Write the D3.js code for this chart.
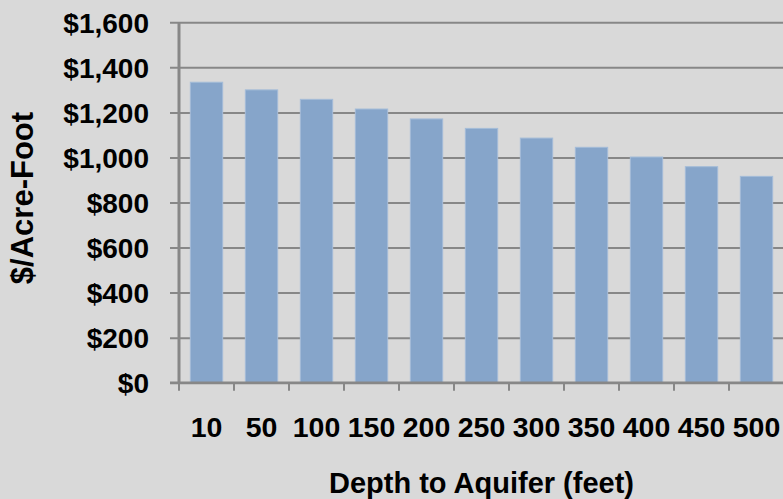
<!DOCTYPE html>
<html>
<head>
<meta charset="utf-8">
<script src="https://cdn.jsdelivr.net/npm/d3@7"></script>
<style>
  html, body { margin: 0; padding: 0; background: #d9d9d9; }
  svg { display: block; }
  text { font-family: "Liberation Sans", Arial, sans-serif; font-weight: bold; fill: #000; }
</style>
</head>
<body>
<svg id="chart" width="783" height="499"></svg>
<script>
// Cost of water by depth to the aquifer
const depths = ["10", "50", "100", "150", "200", "250", "300", "350", "400", "450", "500"];
const costPerAcreFoot = [1334, 1300, 1258, 1215, 1171, 1129, 1086, 1045, 1002, 959, 916];
const yTicks = [0, 200, 400, 600, 800, 1000, 1200, 1400, 1600];
const xTitle = "Depth to Aquifer (feet)";
const yTitle = "$/Acre-Foot";

const W = 783, H = 499;
const plot = { left: 179, right: 784, top: 22.3, bottom: 382.7 };

const svg = d3.select("#chart");
svg.append("rect").attr("width", W).attr("height", H).attr("fill", "#d9d9d9");

const gap = 0.7 / 1.7; // 70% gap width between columns
const x = d3.scaleBand()
  .domain(depths)
  .range([plot.left, plot.right])
  .paddingInner(gap)
  .paddingOuter(gap / 2);

const y = d3.scaleLinear()
  .domain([0, 1600])
  .range([plot.bottom, plot.top]);

const axisColor = "#878787";
const money = v => "$" + d3.format(",")(v);

// Value axis with gridlines across the plot
const yAxis = svg.append("g")
  .attr("transform", `translate(${plot.left},0)`)
  .call(d3.axisLeft(y)
    .tickValues(yTicks)
    .tickFormat(money)
    .tickSizeInner(-(W - plot.left))
    .tickSizeOuter(0)
    .tickPadding(30));
yAxis.select(".domain").remove();
yAxis.selectAll(".tick line")
  .attr("x1", -9)
  .attr("stroke", axisColor)
  .attr("stroke-width", 2);
yAxis.selectAll(".tick text")
  .attr("font-size", 28)
  .attr("dy", "0.36em")
  .style("font-family", "'Liberation Sans', Arial, sans-serif")
  .style("font-weight", "bold");

// Columns
svg.append("g")
  .selectAll("rect")
  .data(depths.map((d, i) => ({ d, v: costPerAcreFoot[i] })))
  .join("rect")
  .attr("x", p => x(p.d))
  .attr("y", p => y(p.v))
  .attr("width", x.bandwidth())
  .attr("height", p => y(0) - y(p.v))
  .attr("fill", "#86a5ca")
  .attr("stroke", "#a4bcd8")
  .attr("stroke-width", 1);

// Vertical axis line
svg.append("line")
  .attr("x1", plot.left).attr("x2", plot.left)
  .attr("y1", y(1600)).attr("y2", y(0))
  .attr("stroke", axisColor).attr("stroke-width", 3);

// Category axis: baseline, tick marks between categories, labels
const xAxis = svg.append("g");
xAxis.append("line")
  .attr("x1", plot.left - 9).attr("x2", W)
  .attr("y1", y(0)).attr("y2", y(0))
  .attr("stroke", axisColor).attr("stroke-width", 2.5);

const step = x.step();
const boundaries = d3.range(depths.length + 1).map(i => plot.left + i * step);
xAxis.selectAll("line.tick")
  .data(boundaries)
  .join("line")
  .attr("class", "tick")
  .attr("x1", d => d).attr("x2", d => d)
  .attr("y1", y(0)).attr("y2", y(0) + 8)
  .attr("stroke", axisColor).attr("stroke-width", 2);

xAxis.selectAll("text")
  .data(depths)
  .join("text")
  .attr("x", d => x(d) + x.bandwidth() / 2)
  .attr("y", 437)
  .attr("text-anchor", "middle")
  .attr("font-size", 28.5)
  .text(d => d);

// Axis titles
svg.append("text")
  .attr("x", (plot.left + plot.right) / 2)
  .attr("y", 493)
  .attr("text-anchor", "middle")
  .attr("font-size", 29)
  .text(xTitle);

svg.append("text")
  .attr("transform", `translate(33,198) rotate(-90)`)
  .attr("text-anchor", "middle")
  .attr("font-size", 31)
  .text(yTitle);
</script>
</body>
</html>
